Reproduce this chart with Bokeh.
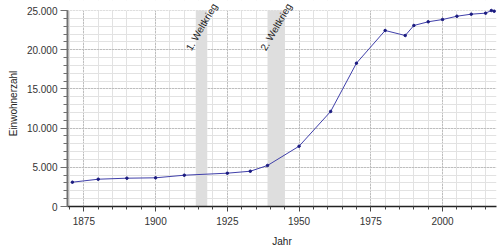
import math
from bokeh.plotting import figure
from bokeh.models import BoxAnnotation, SingleIntervalTicker, CustomJSTickFormatter, ColumnDataSource, Range1d, Label
from bokeh.embed import file_html
from bokeh.resources import INLINE

years = [1871, 1880, 1890, 1900, 1910, 1925, 1933, 1939, 1950, 1961, 1970,
         1980, 1987, 1990, 1995, 2000, 2005, 2010, 2015, 2017, 2018]
population = [3100, 3480, 3610, 3660, 3990, 4250, 4500, 5230, 7690, 12120, 18280,
              22450, 21810, 23090, 23560, 23850, 24270, 24530, 24660, 25000, 24910]
war_names = ["1. Weltkrieg", "2. Weltkrieg"]
war_start = [1914, 1939]
war_end = [1918, 1945]
x_title = "Jahr"
y_title = "Einwohnerzahl"
y_max = 25000

FONT = "Liberation Sans"

# frame: 206 px tall; y_max sits 10 px below the frame top, leaving room for the rotated labels
y_top = y_max * 206 / 196

p = figure(width=500, height=250, output_backend="svg", toolbar_location=None,
           x_range=Range1d(1869.3, 2018.8), y_range=Range1d(0, y_top),
           min_border_left=67, min_border_right=4, min_border_top=0, min_border_bottom=44)
p.outline_line_color = None
p.background_fill_color = "white"

p.xaxis.ticker = SingleIntervalTicker(interval=25, num_minor_ticks=5)
p.yaxis.ticker = SingleIntervalTicker(interval=5000, num_minor_ticks=5)
p.yaxis.bounds = (0, y_max)
p.yaxis.formatter = CustomJSTickFormatter(code="""
return Math.round(tick).toString().replace(/\\B(?=(\\d{3})+(?!\\d))/g, '.');
""")

for g in (p.xgrid, p.ygrid):
    g.grid_line_color = "#9a9a9a"
    g.grid_line_dash = "1 2"
    g.grid_line_width = 1
    g.minor_grid_line_color = "#e2e2e2"
    g.minor_grid_line_width = 1

# hide the grid above the top value
p.add_layout(BoxAnnotation(bottom=y_max, fill_color="white", fill_alpha=1.0,
                           line_color=None, level="underlay"))

for s, e in zip(war_start, war_end):
    p.add_layout(BoxAnnotation(left=s, right=e, bottom=0, top=y_max, fill_color="#dedede",
                               fill_alpha=1.0, line_color=None, level="underlay"))

for ax in (p.xaxis, p.yaxis):
    ax.major_label_text_font = FONT
    ax.major_label_text_font_size = "10px"
    ax.major_label_text_color = "#333333"
    ax.axis_label_text_font = FONT
    ax.axis_label_text_font_size = "10px"
    ax.axis_label_text_font_style = "normal"
    ax.axis_label_text_color = "#222222"
    ax.major_tick_in = 0
    ax.minor_tick_in = 0

p.yaxis.axis_label = y_title
p.yaxis.axis_line_color = "#707070"
p.yaxis.axis_line_width = 2
p.yaxis.major_tick_line_color = "#707070"
p.yaxis.minor_tick_line_color = "#707070"
p.yaxis.major_tick_out = 7
p.yaxis.minor_tick_out = 4
p.yaxis.major_label_standoff = 3
p.yaxis.axis_label_standoff = 5

p.xaxis.axis_label = x_title
p.xaxis.axis_line_color = "#222222"
p.xaxis.axis_line_width = 1.5
p.xaxis.major_tick_line_color = "#444444"
p.xaxis.minor_tick_line_color = "#444444"
p.xaxis.major_tick_out = 5
p.xaxis.minor_tick_out = 3
p.xaxis.major_label_standoff = 5
p.xaxis.axis_label_standoff = 8

src = ColumnDataSource(dict(x=years, y=population))
p.line("x", "y", source=src, line_color="#4040aa", line_width=1)
p.scatter("x", "y", source=src, size=2.5, fill_color="#1a1a80", line_color="#1a1a80")

for name, s, e in zip(war_names, war_start, war_end):
    p.add_layout(Label(x=(s + e) / 2, y=22900, text=name, angle=math.pi / 3,
                       text_align="center", text_baseline="middle",
                       text_font=FONT, text_font_size="10px", text_color="#222222"))

open("out.html", "w").write(file_html(p, INLINE))
